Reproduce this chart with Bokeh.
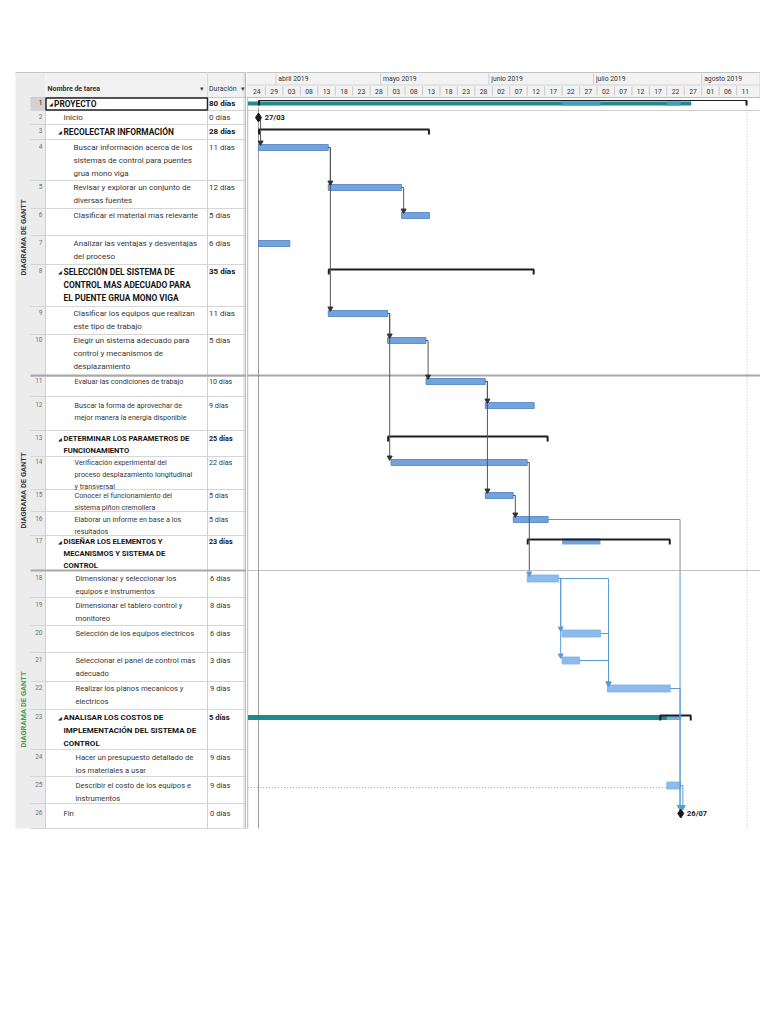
import pandas as pd
from math import pi
from bokeh.plotting import figure
from bokeh.layouts import row
from bokeh.models import Range1d
from bokeh.embed import file_html
from bokeh.resources import INLINE
from bokeh.core.properties import value

# ---------------- data ----------------
ORIGIN = "2019-03-24"

task_ids = list(range(1, 27))
task_lines = [
    ["PROYECTO"],
    ["Inicio"],
    ["RECOLECTAR INFORMACIÓN"],
    ["Buscar información acerca de los", "sistemas de control para puentes", "grua mono viga"],
    ["Revisar y explorar un conjunto de", "diversas fuentes"],
    ["Clasificar el material mas relevante"],
    ["Analizar las ventajas y desventajas", "del proceso"],
    ["SELECCIÓN DEL SISTEMA DE", "CONTROL  MAS ADECUADO PARA", "EL PUENTE GRUA MONO VIGA"],
    ["Clasificar los equipos que realizan", "este tipo de trabajo"],
    ["Elegir un sistema adecuado para", "control  y mecanismos de", "desplazamiento"],
    ["Evaluar las condiciones de trabajo"],
    ["Buscar la forma de aprovechar de", "mejor manera la energia disponible"],
    ["DETERMINAR LOS PARAMETROS DE", "FUNCIONAMIENTO"],
    ["Verificación experimental del", "proceso desplazamiento longitudinal", "y transversal"],
    ["Conocer el funcionamiento del", "sistema piñon cremollera"],
    ["Elaborar un informe en base a los", "resultados"],
    ["DISEÑAR LOS ELEMENTOS   Y", "MECANISMOS   Y SISTEMA DE", "CONTROL"],
    ["Dimensionar y seleccionar los", "equipos e instrumentos"],
    ["Dimensionar el tablero control y", "monitoreo"],
    ["Selección de los equipos electricos"],
    ["Seleccionar el  panel de control mas", "adecuado"],
    ["Realizar los planos mecanicos y", "electricos"],
    ["ANALISAR LOS COSTOS DE", "IMPLEMENTACIÓN  DEL SISTEMA DE", "CONTROL"],
    ["Hacer un presupuesto detallado de", "los materiales a usar"],
    ["Describir el costo de los equipos e", "instrumentos"],
    ["Fin"],
]
durations = ["80 días", "0 días", "28 días", "11 días", "12 días", "5 días", "6 días",
             "35 días", "11 días", "5 días", "10 días", "9 días", "25 días", "22 días",
             "5 días", "5 días", "23 días", "6 días", "8 días", "6 días", "3 días",
             "9 días", "5 días", "9 días", "9 días", "0 días"]
is_summary = [1, 0, 1, 0, 0, 0, 0, 1, 0, 0, 0, 0, 1, 0, 0, 0, 1, 0, 0, 0, 0, 0, 1, 0, 0, 0]
is_milestone = [0, 1, 0, 0, 0, 0, 0, 0, 0, 0, 0, 0, 0, 0, 0, 0, 0, 0, 0, 0, 0, 0, 0, 0, 0, 1]
outline_level = [0, 1, 1, 2, 2, 2, 2, 1, 2, 2, 2, 2, 1, 2, 2, 2, 1, 2, 2, 2, 2, 2, 1, 2, 2, 1]
task_start = ["2019-03-27", "2019-03-27", "2019-03-27", "2019-03-27", "2019-04-16", "2019-05-07",
              "2019-03-27", "2019-04-16", "2019-04-16", "2019-05-03", "2019-05-14", "2019-05-31",
              "2019-05-03", "2019-05-04", "2019-05-31", "2019-06-08", "2019-06-12", "2019-06-12",
              None, "2019-06-22", "2019-06-22", "2019-07-05", "2019-07-20", None,
              "2019-07-22", "2019-07-26"]
task_end = ["2019-08-14", "2019-03-27", "2019-05-15", "2019-04-16", "2019-05-07", "2019-05-15",
            "2019-04-05", "2019-06-14", "2019-05-03", "2019-05-14", "2019-05-31", "2019-06-14",
            "2019-06-18", "2019-06-12", "2019-06-08", "2019-06-18", "2019-07-23", "2019-06-21",
            None, "2019-07-03", "2019-06-27", "2019-07-23", "2019-07-29", None,
            "2019-07-26", "2019-07-26"]

# teal (critical) summary bars
teal_task = [1, 23]
teal_start = ["2019-03-24", "2019-03-24"]
teal_end = ["2019-07-29", "2019-07-26"]

# rolled-up sub task bars shown on summary rows
rollup_row = [1, 1, 17, 23]
rollup_task = [20, 25, 20, 25]

# dependency links (predecessor, successor)
links = [(2, 4), (4, 5), (4, 9), (5, 6), (9, 10), (9, 14), (10, 11), (11, 12), (11, 15),
         (15, 16), (14, 18), (16, 26), (18, 20), (18, 21), (18, 22), (20, 22), (21, 22),
         (22, 26), (25, 26)]

month_labels = ["abril 2019", "mayo 2019", "junio 2019", "julio 2019", "agosto 2019"]
month_starts = ["2019-04-01", "2019-05-01", "2019-06-01", "2019-07-01", "2019-08-01"]
tick_step_days = 5
tick_count = 29

side_labels = ["DIAGRAMA DE GANTT", "DIAGRAMA DE GANTT", "DIAGRAMA DE GANTT"]

# ---------------- layout constants ----------------
row_top = [97, 110, 124, 139, 180, 208, 235, 264, 306, 334, 376, 396, 430, 456, 489, 511,
           535, 570, 597, 625, 652, 681, 709, 749, 776, 803]
row_bottom = row_top[1:] + [828]
first_y = [103, 117, 131, 147, 187, 215, 243, 271, 313, 340, 381, 405, 438, 462, 495, 519,
           541, 578, 605, 633, 660, 688, 717, 757, 785, 813]
section = [0] * 10 + [1] * 7 + [2] * 9
line_gap = [13, 12, 13]
font_sz = ["8px", "7.2px", "7.6px"]
bold_sz = ["8.4px", "7.6px", "8px"]
side_label_y = [237, 490, 709]
side_label_col = ["#3a3a3a", "#3a3a3a", "#4f9a4f"]
PX0, PXD = 247.5, 3.49
FONT = value("Roboto")
H = 840

o = pd.Timestamp(ORIGIN)


def day(s):
    return (pd.Timestamp(s) - o) / pd.Timedelta(days=1)


common = dict(height=H, y_range=Range1d(H, 0), output_backend="svg", toolbar_location=None,
              x_axis_type=None, y_axis_type=None, min_border=0, outline_line_color=None,
              background_fill_color="white", border_fill_color="white")

# ---------------- left table ----------------
L = figure(width=246, x_range=Range1d(0, 246), **common)

L.quad(left=[15], right=[45], top=[72], bottom=[828], fill_color="#ececec", line_color=None)
L.quad(left=[45], right=[246], top=[72], bottom=[97], fill_color="#f1f1f1", line_color=None)
L.quad(left=[30], right=[45], top=[row_top[0]], bottom=[row_bottom[0]], fill_color="#d2d2d2",
       line_color=None)
# grid lines
L.segment(x0=[30] * 26, x1=[246] * 26, y0=row_bottom, y1=row_bottom, line_color="#d6d6d6",
          line_width=1)
L.segment(x0=[15], x1=[246], y0=[72], y1=[72], line_color="#c4c4c4", line_width=1)
L.segment(x0=[30], x1=[246], y0=[97], y1=[97], line_color="#c8c8c8", line_width=1)
L.segment(x0=[45, 207, 243.5], x1=[45, 207, 243.5], y0=[97] * 3, y1=[828] * 3,
          line_color="#d0d0d0", line_width=1)
L.segment(x0=[207, 243.5], x1=[207, 243.5], y0=[72, 72], y1=[97, 97], line_color="#d8d8d8")
L.segment(x0=[245.5], x1=[245.5], y0=[72], y1=[828], line_color="#a9a9a9", line_width=1.5)
L.segment(x0=[30, 30], x1=[246, 246], y0=[375, 570], y1=[375, 570], line_color="#a8a8a8",
          line_width=2)
# selection box on row 1
L.quad(left=[45.5], right=[207], top=[row_top[0] + 0.5], bottom=[row_bottom[0] - 0.5],
       fill_color=None, line_color="#222222", line_width=1.5)

# header texts
L.text(x=[47], y=[88], text=["Nombre de tarea"], text_font=FONT, text_font_size="7px",
       text_font_style="bold", text_baseline="middle", text_color="#333333")
L.text(x=[199, 240], y=[88, 88], text=["▾", "▾"], text_font=FONT, text_font_size="7px",
       text_baseline="middle", text_color="#444444")
L.text(x=[208.5], y=[88], text=["Duración"], text_font=FONT, text_font_size="7px",
       text_baseline="middle", text_color="#333333")

# side labels
L.text(x=[23] * 3, y=side_label_y, text=side_labels, angle=pi / 2, text_font=FONT,
       text_font_size="7.5px", text_font_style="bold", text_align="center",
       text_baseline="middle", text_color=side_label_col)

for sec in range(3):
    nx, ny, nt, bx, by, bt, tx, ty = [], [], [], [], [], [], [], []
    dx, dy, dt, sx, sy, st = [], [], [], [], [], []
    rx, ry, rt, rc, rs = [], [], [], [], []
    for i in range(26):
        if section[i] != sec:
            continue
        lvl = outline_level[i]
        rx.append(42)
        ry.append(first_y[i] - 1)
        rt.append(str(task_ids[i]))
        rc.append("#111111" if i == 0 else "#707070")
        if is_summary[i]:
            tri = 48 if lvl == 0 else 57.5
            x0 = tri + 5.5
            tx.append(tri)
            ty.append(first_y[i])
        else:
            x0 = 63 if lvl == 1 else 73 + sec
        for k, ln in enumerate(task_lines[i]):
            yy = first_y[i] + k * line_gap[sec]
            if is_summary[i]:
                bx.append(x0); by.append(yy); bt.append(ln)
            else:
                nx.append(x0); ny.append(yy); nt.append(ln)
        if is_summary[i]:
            sx.append(208.5); sy.append(first_y[i]); st.append(durations[i])
        else:
            dx.append(208.5 + (1 if sec == 2 else 0)); dy.append(first_y[i]); dt.append(durations[i])
    fs = font_sz[sec]
    L.text(x=nx, y=ny, text=nt, text_font=FONT, text_font_size=fs, text_baseline="middle",
           text_color="#363636")
    L.text(x=bx, y=by, text=bt, text_font=FONT, text_font_size=bold_sz[sec], text_font_style="bold",
           text_baseline="middle", text_color="#151515")
    L.text(x=tx, y=ty, text=["◢"] * len(tx), text_font=FONT, text_font_size="5px",
           text_baseline="middle", text_color="#222222")
    L.text(x=dx, y=dy, text=dt, text_font=FONT, text_font_size=fs, text_baseline="middle",
           text_color="#363636")
    L.text(x=sx, y=sy, text=st, text_font=FONT, text_font_size=fs, text_font_style="bold",
           text_baseline="middle", text_color="#151515")
    L.text(x=rx, y=ry, text=rt, text_font=FONT, text_font_size="6.5px", text_align="right",
           text_baseline="middle", text_color=rc)

# ---------------- gantt ----------------
X0 = (246 - PX0) / PXD
X1 = (760 - PX0) / PXD
G = figure(width=514, x_range=Range1d(X0, X1), **common)

# header
G.quad(left=[X0], right=[X1], top=[72], bottom=[97], fill_color="#f2f2f2", line_color=None)
G.segment(x0=[X0, X0, X0], x1=[X1, X1, X1], y0=[72, 84.5, 97], y1=[72, 84.5, 97],
          line_color=["#c4c4c4", "#d4d4d4", "#bdbdbd"], line_width=1)
ms = [day(m) for m in month_starts]
G.segment(x0=ms, x1=ms, y0=[73] * len(ms), y1=[84] * len(ms), line_color="#cfcfcf")
G.text(x=[m + 0.7 for m in ms], y=[78.5] * len(ms), text=month_labels, text_font=FONT,
       text_font_size="6.8px", text_baseline="middle", text_color="#333333")
ticks = [k * tick_step_days for k in range(tick_count)]
tick_txt = [(o + pd.Timedelta(days=t)).strftime("%d") for t in ticks]
G.segment(x0=ticks[1:], x1=ticks[1:], y0=[86] * (tick_count - 1), y1=[95] * (tick_count - 1),
          line_color="#c9c9c9")
G.text(x=[t + 2.5 for t in ticks], y=[91] * tick_count, text=tick_txt, text_font=FONT,
       text_font_size="6.8px", text_align="center", text_baseline="middle", text_color="#333333")

# frame / separator lines
G.segment(x0=[X0, X0, X0], x1=[X1, X1, X1], y0=[110, 375, 570], y1=[110, 375, 570],
          line_color=["#cfcfcf", "#a8a8a8", "#c0c0c0"], line_width=[1, 2, 1])
G.segment(x0=[X0 + 0.35], x1=[X0 + 0.35], y0=[97], y1=[828], line_color="#b5b5b5")
G.segment(x0=[X1 - 0.1], x1=[X1 - 0.1], y0=[72], y1=[97], line_color="#c8c8c8")

# project start line and project end dotted line
ps = day(task_start[1])
pe = day(task_end[0])
G.segment(x0=[ps], x1=[ps], y0=[107], y1=[828], line_color="#9a9a9a", line_width=1)
G.segment(x0=[pe], x1=[pe], y0=[106], y1=[828], line_color="#b8b8b8", line_width=1,
          line_dash="1 2")
# slack dotted line on row 25
G.segment(x0=[0], x1=[day(task_start[24])], y0=[first_y[24] + 2], y1=[first_y[24] + 2],
          line_color="#9fb3c8", line_width=1, line_dash="1 2")

# teal summary bars
tl = [day(s) for s in teal_start]
tr = [day(e) for e in teal_end]
ty_ = [first_y[t - 1] for t in teal_task]
th = [2, 2.5]
G.quad(left=tl, right=tr, top=[y - h for y, h in zip(ty_, th)],
       bottom=[y + h for y, h in zip(ty_, th)], fill_color="#21898b", line_color=None)
# roll-ups
rl = [day(task_start[t - 1]) for t in rollup_task]
rr = [day(task_end[t - 1]) for t in rollup_task]
ry_ = [first_y[r - 1] for r in rollup_row]
rcol = ["#3c9fc2" if r == 1 else ("#72a3dc" if r == 17 else "#6cb1e3") for r in rollup_row]
rh = [2 if r == 1 else (3 if r == 17 else 2.5) for r in rollup_row]
G.quad(left=rl, right=rr, top=[y - h for y, h in zip(ry_, rh)],
       bottom=[y + h for y, h in zip(ry_, rh)], fill_color=rcol, line_color=None)

# summary brackets
for i in range(26):
    if not is_summary[i]:
        continue
    a, b = day(task_start[i]), day(task_end[i])
    yb = first_y[i] - (3 if i == 0 else 2)
    G.segment(x0=[a], x1=[b], y0=[yb], y1=[yb], line_color="#1e1e1e", line_width=2 if i else 1.2)
    G.segment(x0=[a + 0.15, b - 0.15], x1=[a + 0.15, b - 0.15], y0=[yb, yb], y1=[yb + 5, yb + 5],
              line_color="#1e1e1e", line_width=2)

# task bars
for sec in range(3):
    bl, br, bt_, bb = [], [], [], []
    for i in range(26):
        if section[i] != sec or is_summary[i] or is_milestone[i] or task_start[i] is None:
            continue
        bl.append(day(task_start[i]))
        br.append(day(task_end[i]))
        h = 3.5 if sec == 2 else 3
        bt_.append(first_y[i] - h)
        bb.append(first_y[i] + h)
    if sec < 2:
        G.quad(left=bl, right=br, top=bt_, bottom=bb, fill_color="#72a3dc", line_color="#4d7fbf",
               line_width=0.8)
    else:
        G.quad(left=bl, right=br, top=bt_, bottom=bb, fill_color="#8dbbec", line_color="#7eb0e6",
               line_width=0.8)

# links
GRAY, BLUE = "#555555", "#5b9bd5"
SPLIT = 570
hx0, hx1, hy, hc = [], [], [], []
vx, vy0, vy1, vc = [], [], [], []
ax, ay, ac = [], [], []
for a, b in links:
    ia, ib = a - 1, b - 1
    xs = day(task_end[ia])
    xb = day(task_start[ib])
    ys = first_y[ia]
    if xb - xs <= 1.5:
        xt = xs + 0.6
    else:
        xt = xb + (-0.2 if is_milestone[ib] else 0.3)
    yt = first_y[ib] - (5 if is_milestone[ib] else 3.5)
    far = (xt - xs) > 20
    ca = (("#8a8a8a" if far else GRAY) if ys < SPLIT else BLUE)
    hx0.append(xs); hx1.append(xt); hy.append(ys); hc.append(ca)
    if ys < SPLIT < yt:
        vx += [xt, xt]; vy0 += [ys, SPLIT]; vy1 += [SPLIT, yt]; vc += [ca, BLUE]
    else:
        vx.append(xt); vy0.append(ys); vy1.append(yt); vc.append(ca)
    ax.append(xt); ay.append(yt - 1.5); ac.append("#333333" if yt < SPLIT else BLUE)
G.segment(x0=hx0, x1=hx1, y0=hy, y1=hy, line_color=hc, line_width=1)
G.segment(x0=vx, x1=vx, y0=vy0, y1=vy1, line_color=vc, line_width=1)
G.scatter(x=ax, y=ay, marker="inverted_triangle", size=5, fill_color=ac, line_color=ac)

# milestones
mx = [day(task_start[i]) for i in range(26) if is_milestone[i]]
my = [first_y[i] for i in range(26) if is_milestone[i]]
mt = [pd.Timestamp(task_start[i]).strftime("%d/%m") for i in range(26) if is_milestone[i]]
G.scatter(x=mx, y=my, marker="diamond", size=9, fill_color="#1a1a1a", line_color="#1a1a1a")
G.text(x=[m + 1.8 for m in mx], y=my, text=mt, text_font=FONT, text_font_size="7.5px",
       text_font_style="bold", text_baseline="middle", text_color="#1a1a1a")

layout = row(L, G)
open("out.html", "w").write(file_html(layout, INLINE))
